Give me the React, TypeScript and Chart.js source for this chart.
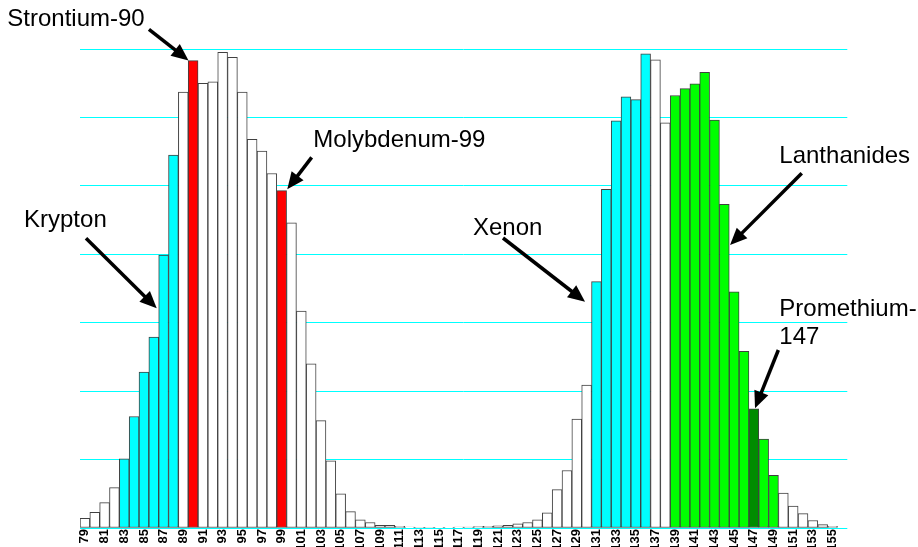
import React, { useEffect, useRef } from 'react';
import { Chart, registerables } from 'chart.js';

Chart.register(...registerables);

// Mass numbers (categories)
const massNumbers = [
  79, 80, 81, 82, 83, 84, 85, 86, 87, 88, 89, 90, 91, 92, 93, 94, 95, 96, 97, 98,
  99, 100, 101, 102, 103, 104, 105, 106, 107, 108, 109, 110, 111, 112, 113, 114, 115, 116, 117, 118,
  119, 120, 121, 122, 123, 124, 125, 126, 127, 128, 129, 130, 131, 132, 133, 134, 135, 136, 137, 138,
  139, 140, 141, 142, 143, 144, 145, 146, 147, 148, 149, 150, 151, 152, 153, 154, 155, 156,
];

// Fission product yields (grid units)
const yields = [
  0.14, 0.23, 0.37, 0.59, 1.01, 1.63, 2.28, 2.79, 3.99, 5.45, 6.37, 6.83, 6.50, 6.52, 6.95, 6.88, 6.37, 5.68, 5.51, 5.18,
  4.93, 4.46, 3.17, 2.40, 1.57, 0.98, 0.50, 0.24, 0.12, 0.08, 0.04, 0.04, 0.025, 0.012, 0.008, 0.008, 0.01, 0.01, 0.012, 0.015,
  0.02, 0.025, 0.03, 0.04, 0.06, 0.08, 0.12, 0.22, 0.56, 0.84, 1.59, 2.09, 3.60, 4.95, 5.95, 6.30, 6.26, 6.93, 6.84, 5.92,
  6.32, 6.42, 6.49, 6.66, 5.96, 4.73, 3.45, 2.58, 1.74, 1.30, 0.77, 0.51, 0.32, 0.21, 0.11, 0.05, 0.025, 0,
];

const tickLabels = massNumbers.map(String);

const kryptonMasses = [83, 84, 85, 86, 87, 88];
const xenonMasses = [131, 132, 133, 134, 135, 136];
const highlightedMasses = [90, 99];
const lanthanideMasses = [139, 140, 141, 142, 143, 144, 145, 146, 148, 149];
const promethiumMasses = [147];

// Annotations in data coordinates: [mass number, yield]
const annotations = [
  { lines: [{ t: 'Strontium-90', at: [71.11, 7.336] }], tail: [85.51, 7.288], tip: [89.53, 6.832] },
  { lines: [{ t: 'Molybdenum-99', at: [102.22, 5.572] }], tail: [102.05, 5.417], tip: [99.57, 4.95] },
  { lines: [{ t: 'Krypton', at: [72.81, 4.403] }], tail: [79.11, 4.234], tip: [86.3, 3.211] },
  { lines: [{ t: 'Xenon', at: [118.45, 4.282] }], tail: [121.5, 4.238], tip: [129.84, 3.307] },
  { lines: [{ t: 'Lanthanides', at: [149.59, 5.33] }], tail: [151.87, 5.183], tip: [144.58, 4.136] },
  {
    lines: [
      { t: 'Promethium-', at: [149.59, 3.098] },
      { t: '147', at: [149.59, 2.685] },
    ],
    tail: [149.49, 2.601],
    tip: [147.12, 1.749],
  },
];

function barColor(m: number): string {
  if (kryptonMasses.includes(m) || xenonMasses.includes(m)) return '#00FFFF';
  if (highlightedMasses.includes(m)) return '#FF0000';
  if (promethiumMasses.includes(m)) return '#008C00';
  if (lanthanideMasses.includes(m)) return '#00FF00';
  return '#FFFFFF';
}

function drawArrow(ctx: CanvasRenderingContext2D, x1: number, y1: number, x2: number, y2: number) {
  const ang = Math.atan2(y2 - y1, x2 - x1);
  const c = Math.cos(ang);
  const s = Math.sin(ang);
  const headLen = 17;
  const halfW = 7.5;
  const bx = x2 - headLen * c;
  const by = y2 - headLen * s;
  ctx.strokeStyle = '#000';
  ctx.fillStyle = '#000';
  ctx.lineWidth = 3.5;
  ctx.lineCap = 'butt';
  ctx.beginPath();
  ctx.moveTo(x1, y1);
  ctx.lineTo(bx + 2 * c, by + 2 * s);
  ctx.stroke();
  ctx.beginPath();
  ctx.moveTo(x2, y2);
  ctx.lineTo(bx + halfW * s, by - halfW * c);
  ctx.lineTo(bx - halfW * s, by + halfW * c);
  ctx.closePath();
  ctx.fill();
}

const annotationPlugin = {
  id: 'fissionAnnotations',
  afterDraw(chart: any) {
    const { ctx } = chart;
    const xs = chart.scales.x;
    const ys = chart.scales.y;
    const X = (m: number) => xs.getPixelForValue(m - massNumbers[0]);
    const Y = (v: number) => ys.getPixelForValue(v);
    ctx.save();
    ctx.font = '24px "Liberation Sans", Arial, sans-serif';
    ctx.textAlign = 'left';
    ctx.textBaseline = 'alphabetic';
    for (const a of annotations) {
      ctx.fillStyle = '#000';
      for (const l of a.lines) {
        ctx.fillText(l.t, X(l.at[0]), Y(l.at[1]));
      }
      drawArrow(ctx, X(a.tail[0]), Y(a.tail[1]), X(a.tip[0]), Y(a.tip[1]));
    }
    ctx.restore();
  },
};

export default function App() {
  const ref = useRef<HTMLCanvasElement | null>(null);

  useEffect(() => {
    if (!ref.current) return;
    const chart = new Chart(ref.current, {
      type: 'bar',
      data: {
        labels: tickLabels,
        datasets: [
          {
            data: yields,
            backgroundColor: massNumbers.map(barColor),
            borderColor: '#404040',
            borderWidth: 1,
            borderSkipped: false,
            barPercentage: 1,
            categoryPercentage: 1,
          },
        ],
      },
      options: {
        responsive: false,
        animation: false,
        devicePixelRatio: 1,
        layout: { padding: { top: 49, right: 70.7, left: 0, bottom: 0 } },
        plugins: {
          legend: { display: false },
          tooltip: { enabled: false },
        },
        scales: {
          x: {
            grid: { display: false, drawTicks: false },
            border: { display: false },
            afterFit: (s: any) => {
              s.height = 32;
            },
            ticks: {
              autoSkip: false,
              minRotation: 90,
              maxRotation: 90,
              padding: 1,
              color: '#000',
              font: { family: '"Liberation Sans", Arial, sans-serif', size: 13, weight: 'bold' },
              callback: (_v: any, i: number) => (i % 2 === 0 ? tickLabels[i] : ''),
            },
          },
          y: {
            min: 0,
            max: 7,
            grid: { color: '#00FFFF', lineWidth: 1, drawTicks: false },
            border: { display: false },
            afterFit: (s: any) => {
              s.width = 80;
            },
            ticks: { display: false, stepSize: 1 },
          },
        },
      },
      plugins: [annotationPlugin],
    });
    return () => chart.destroy();
  }, []);

  return (
    <div
      style={{
        position: 'fixed',
        left: 0,
        top: 0,
        width: 918,
        height: 547,
        overflow: 'hidden',
        background: '#fff',
      }}
    >
      <canvas ref={ref} width={918} height={560} style={{ display: 'block', width: 918, height: 560 }} />
    </div>
  );
}
